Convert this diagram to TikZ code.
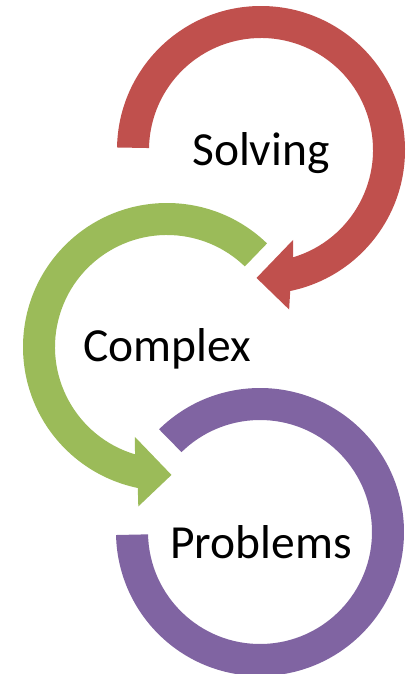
\documentclass[tikz,border=0pt]{standalone}
\usepackage{fontspec}
\setmainfont{Carlito}
\definecolor{arcred}{HTML}{C0504D}
\definecolor{arcgreen}{HTML}{9BBB59}
\definecolor{arcpurple}{HTML}{8064A2}
\tikzset{
  word/.style={anchor=base,inner sep=0pt,font=\fontsize{47.5}{57}\selectfont}
}
\begin{document}
\begin{tikzpicture}[x=1pt,y=1pt]
\useasboundingbox (0,0) rectangle (405,-674);
\path (261,-150) coordinate(solvingc) (167,-347) coordinate(complexc) (260,-532) coordinate(problemsc);

% red arrow
\fill[arcred,shift={(solvingc)}] (179:144) arc[start angle=179,end angle=-78.3,radius=144]
  -- (-80:162) -- (-92:128) -- (-70.4:95.5) -- (-73.4:112)
  arc[start angle=-73.4,end angle=179,radius=112] -- cycle;
% green arrow
\fill[arcgreen,shift={(complexc)}] (46:144) arc[start angle=46,end angle=258.3,radius=144]
  -- (259.8:162) -- (272:128) -- (250.4:95.5) -- (253.4:112)
  arc[start angle=253.4,end angle=46,radius=112] -- cycle;
% purple arc
\fill[arcpurple,shift={(problemsc)}] (134.5:144) arc[start angle=134.5,end angle=-178.8,radius=144]
  -- (-178.8:112) arc[start angle=-178.8,end angle=134.5,radius=112] -- cycle;

\path (261,-165.5) node[word](solving){Solving}
  (167,-361.7) node[word](complex){Complex}
  (261,-558) node[word](problems){Problems};
\end{tikzpicture}
\end{document}
